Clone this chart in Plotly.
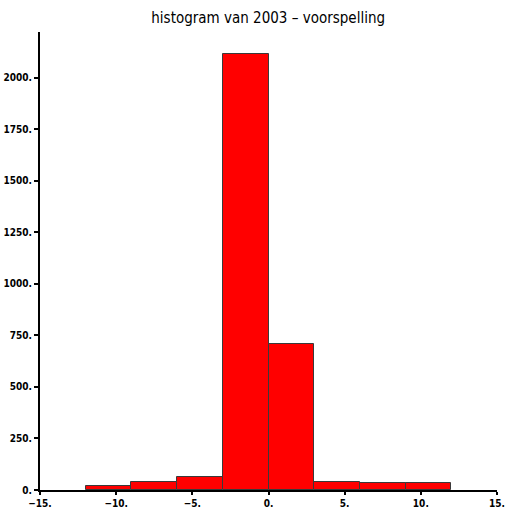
import plotly.graph_objects as go

# Histogram counts per bin (bin width 3)
bin_left = [-12, -9, -6, -3, 0, 3, 6, 9]
counts = [18, 41, 63, 2117, 708, 41, 36, 32]
bin_width = 3

x_ticks = [-15, -10, -5, 0, 5, 10, 15]
x_tick_text = ["\u221215.", "\u221210.", "\u22125.", "0.", "5.", "10.", "15."]
y_ticks = [0, 250, 500, 750, 1000, 1250, 1500, 1750, 2000]
y_tick_text = [f"{v}." for v in y_ticks]

centers = [b + bin_width / 2 for b in bin_left]

fig = go.Figure(
    go.Bar(
        x=centers,
        y=counts,
        width=[bin_width] * len(counts),
        marker=dict(color="#ff0000", line=dict(color="#3a3a3a", width=1)),
    )
)

tick_font = dict(family="Liberation Sans Narrow, DejaVu Sans Condensed, sans-serif",
                 size=10, color="black", weight="bold")

fig.update_layout(
    width=506,
    height=508,
    margin=dict(l=40, r=9, t=32, b=18),
    paper_bgcolor="white",
    plot_bgcolor="white",
    showlegend=False,
    bargap=0,
    title=dict(
        text="histogram van 2003 \u2013 voorspelling",
        x=0.53,
        xanchor="center",
        y=0.965,
        yanchor="middle",
        font=dict(family="DejaVu Sans Condensed, DejaVu Sans, sans-serif", size=15, color="black"),
    ),
    xaxis=dict(
        range=[-15, 15],
        tickvals=x_ticks,
        ticktext=x_tick_text,
        showgrid=False,
        zeroline=False,
        showline=True,
        linecolor="black",
        linewidth=2,
        ticks="outside",
        ticklen=3,
        tickwidth=2,
        tickcolor="black",
        tickfont=tick_font,
        automargin=False,
    ),
    yaxis=dict(
        range=[0, max(counts) * 1.05],
        tickvals=y_ticks,
        ticktext=y_tick_text,
        showgrid=False,
        zeroline=False,
        showline=True,
        linecolor="black",
        linewidth=2,
        ticks="outside",
        ticklen=4,
        tickwidth=2,
        tickcolor="black",
        tickfont=tick_font,
        automargin=False,
    ),
)

fig.write_html("out.html")
